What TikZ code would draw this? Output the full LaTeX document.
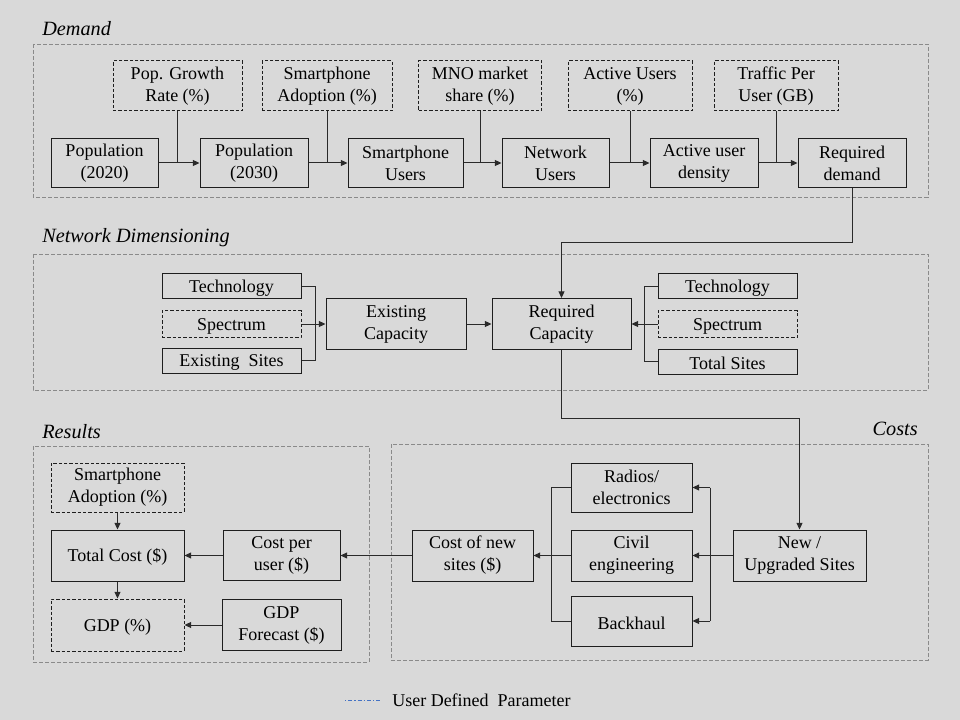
\documentclass[tikz,border=0pt]{standalone}
\usepackage{fontspec}
\setmainfont{Liberation Serif}
\usetikzlibrary{arrows.meta}
\definecolor{bg}{HTML}{D9D9D9}
\definecolor{secline}{HTML}{8A8A8A}
\definecolor{boxline}{HTML}{1E1E1E}
\definecolor{conn}{HTML}{2A2A2A}
\definecolor{legblue}{HTML}{4472C4}
\begin{document}
\begin{tikzpicture}[x=0.75pt,y=-0.75pt,
  wh/.style 2 args={minimum width=#1*0.75pt,minimum height=#2*0.75pt},
  box/.style={draw=boxline,line width=0.75pt,inner sep=0pt,align=center,font=\fontsize{13.5}{16.5}\selectfont,
    execute at begin node={\rule{0pt}{12.6pt}}},
  param/.style={box,dash pattern=on 2.5pt off 1.5pt},
  section/.style={draw=secline,line width=0.6pt,dash pattern=on 3pt off 1.5pt},
  sectitle/.style={font=\fontsize{15.2}{18}\selectfont\itshape,inner sep=0pt},
  conline/.style={draw=conn,line width=0.75pt},
  arr/.style={conline,-{Triangle[length=5pt,width=4.5pt]}}]
\fill[bg] (0,0) rectangle (960,720);
\useasboundingbox (0,0) rectangle (960,720);

% sections
\draw[section] (33,44) rectangle (928,197);
\draw[section] (33,254) rectangle (928,390);
\draw[section] (391,444) rectangle (928,660);
\draw[section] (33,446) rectangle (369,662);
\node[sectitle,anchor=west] (tdem) at (42,28.5) {Demand};
\node[sectitle,anchor=west] (tnet) at (42,237.5) {Network Dimensioning};
\node[sectitle,anchor=west] (tres) at (42,431.5) {Results};
\node[sectitle,anchor=east] (tcost) at (918,428.5) {Costs};

% demand
\node[param,wh={129}{50}] (pg) at (177.5,86) {Pop. Growth\\Rate (\%)};
\node[param,wh={130}{50}] (sa) at (327,86) {Smartphone\\Adoption (\%)};
\node[param,wh={123}{50}] (mno) at (480,86) {MNO market\\share (\%)};
\node[param,wh={124}{50}] (au) at (630,86) {Active Users\\(\%)};
\node[param,wh={124}{50}] (tpu) at (776,86) {Traffic Per\\User (GB)};
\node[box,wh={107}{49}] (p20) at (104.5,163) {Population\\(2020)};
\node[box,wh={108}{49}] (p30) at (254,163) {Population\\(2030)};
\node[box,wh={115}{49}] (su) at (405.5,163) {Smartphone\\Users};
\node[box,wh={107}{49}] (nu) at (555.5,163) {Network\\Users};
\node[box,wh={108}{49}] (aud) at (704,163) {Active user\\density};
\node[box,wh={108}{49}] (rd) at (852,163) {Required\\demand};

\draw[arr] (p20.east) -- (p30.west);
\draw[arr] (p30.east) -- (su.west);
\draw[arr] (su.east) -- (nu.west);
\draw[arr] (nu.east) -- (aud.west);
\draw[arr] (aud.east) -- (rd.west);
\draw[conline] (pg.south) -- (pg.south |- p20.east);
\draw[conline] (sa.south) -- (sa.south |- p30.east);
\draw[conline] (mno.south) -- (mno.south |- su.east);
\draw[conline] (au.south) -- (au.south |- nu.east);
\draw[conline] (tpu.south) -- (tpu.south |- aud.east);

% network dimensioning
\node[box,wh={139}{25}] (tl) at (231.5,286.5) {Technology};
\node[param,wh={139}{27}] (sl) at (231.5,324) {Spectrum};
\node[box,wh={139}{25}] (el) at (231.5,360.5) {Existing\ \ Sites};
\node[box,wh={140}{50}] (ec) at (396,324) {Existing\\Capacity};
\node[box,wh={139}{51}] (rc) at (561.5,324) {Required\\Capacity};
\node[box,wh={139}{25}] (tr) at (727.5,286.5) {Technology};
\node[param,wh={139}{27}] (sr) at (727.5,324) {Spectrum};
\node[box,wh={139}{25}] (tsr) at (727.5,361.5) {Total Sites};

\coordinate (j1) at (852,243);
\draw[arr] (rd.south) -- (j1) -| (rc.north);
\draw[conline] (tl.east) -- ++(14,0) |- (el.east);
\draw[arr] (sl.east) -- (ec.west);
\draw[arr] (ec.east) -- (rc.west);
\draw[conline] (tr.west) -- ++(-13,0) |- (tsr.west);
\draw[arr] (sr.west) -- (rc.east);

% costs
\node[box,wh={121}{49}] (radio) at (631.5,487.5) {Radios/\\electronics};
\node[box,wh={121}{51}] (civil) at (631.5,555.5) {Civil\\engineering};
\node[box,wh={121}{50}] (back) at (631.5,621) {Backhaul};
\node[box,wh={133}{51}] (nus) at (799.5,555.5) {New /\\Upgraded Sites};
\node[box,wh={121}{51}] (cns) at (472.5,555.5) {Cost of new\\sites (\$)};

\coordinate (j2) at (600,418);
\draw[arr] (rc.south) -- (rc.south |- j2) -| (nus.north);
\draw[conline] (radio.west) -- ++(-19,0) |- (back.west);
\draw[arr] (civil.west) -- (cns.east);
\coordinate (bt) at (710,487.5);
\coordinate (bb) at (710,621);
\draw[conline] (bt) -- (bb);
\draw[arr] (bt) -- (radio.east);
\draw[arr] (nus.west) -- (civil.east);
\draw[arr] (bb) -- (back.east);

% results
\node[param,wh={133}{49}] (rsa) at (117.5,487.5) {Smartphone\\Adoption (\%)};
\node[box,wh={133}{51}] (tc) at (117.5,555.5) {Total Cost (\$)};
\node[param,wh={133}{52}] (gdp) at (117.5,625) {GDP (\%)};
\node[box,wh={117}{50}] (cpu) at (281.5,555.5) {Cost per\\user (\$)};
\node[box,wh={119}{51}] (gdpf) at (281.5,625) {GDP\\Forecast (\$)};

\draw[arr] (cns.west) -- (cpu.east);
\draw[arr] (cpu.west) -- (tc.east);
\draw[arr] (gdpf.west) -- (gdp.east);
\draw[arr] (rsa.south) -- (tc.north);
\draw[arr] (tc.south) -- (gdp.north);

% legend
\coordinate (la) at (345,700);
\coordinate (lb) at (380,700);
\draw[legblue,line width=0.5pt,dash pattern=on 1pt off 1.5pt on 3pt off 1.5pt] (la) -- (lb);
\node[anchor=west,inner sep=0pt,font=\fontsize{13.5}{16}\selectfont] (leg) at (392,700) {User Defined\ \ Parameter};
\end{tikzpicture}
\end{document}
